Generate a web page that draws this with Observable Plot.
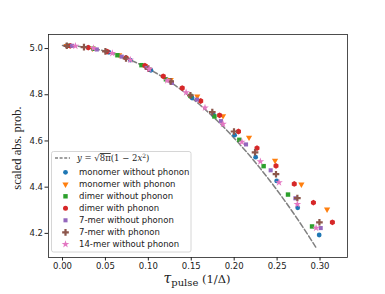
<!DOCTYPE html>
<html><head><meta charset="utf-8">
<script src="https://cdn.jsdelivr.net/npm/d3@7"></script>
<script src="https://cdn.jsdelivr.net/npm/@observablehq/plot@0.6"></script>
<style>body{margin:0;background:#fff;}</style>
</head><body><div id="chart"></div>
<script>
// ---- data ----
const seriesNames = ["monomer without phonon","monomer with phonon","dimer without phonon","dimer with phonon","7-mer without phonon","7-mer with phonon","14-mer without phonon"];
const seriesColors = ["#1f77b4","#ff7f0e","#2ca02c","#d62728","#9467bd","#8c564b","#e377c2"];
const seriesSymbols = ["circle","triangle","square","hexagon","square","cross","star"];
const seriesRotate = [0,180,0,0,0,0,0];
const seriesR = [2.4,2.3,2.5,2.5,2.3,2.8,2.4];

const tauMonoNo = [0.005,0.030,0.054,0.079,0.103,0.127,0.151,0.176,0.2005,0.225,0.2495,0.274,0.299];
const probMonoNo = [5.012,5.004,4.984,4.950,4.906,4.853,4.786,4.712,4.625,4.530,4.427,4.311,4.193];
const tauMonoPh = [0.005,0.035,0.066,0.096,0.126,0.157,0.187,0.2173,0.2476,0.2783,0.3082];
const probMonoPh = [5.012,5.000,4.972,4.925,4.865,4.793,4.708,4.615,4.515,4.412,4.304];
const tauDimNo = [0.007,0.036,0.064,0.092,0.1205,0.149,0.177,0.206,0.2343,0.2627,0.2907];
const probDimNo = [5.012,4.999,4.971,4.928,4.867,4.795,4.706,4.605,4.491,4.368,4.230];
const tauDimPh = [0.009,0.030,0.052,0.074,0.096,0.1174,0.1395,0.161,0.183,0.205,0.2266,0.2487,0.270,0.2923,0.3144];
const probDimPh = [5.012,5.004,4.987,4.960,4.926,4.880,4.829,4.773,4.711,4.641,4.569,4.492,4.414,4.333,4.248];
const tau7No = [0.011,0.040,0.069,0.098,0.1275,0.1566,0.1846,0.2138,0.2425,0.2713,0.3008];
const prob7No = [5.012,4.996,4.965,4.916,4.851,4.779,4.686,4.585,4.473,4.352,4.223];
const tau7Ph = [0.005,0.025,0.050,0.074,0.100,0.126,0.149,0.1745,0.1998,0.2243,0.2487,0.2736,0.2993];
const prob7Ph = [5.012,5.006,4.988,4.957,4.913,4.858,4.797,4.725,4.641,4.551,4.456,4.353,4.248];
const tau14No = [0.015,0.036,0.058,0.079,0.101,0.122,0.144,0.166,0.187,0.209,0.2305,0.2522,0.2736,0.2954];
const prob14No = [5.011,5.001,4.980,4.951,4.911,4.862,4.810,4.744,4.673,4.596,4.511,4.420,4.326,4.223];

const xTicks = [0.00,0.05,0.10,0.15,0.20,0.25,0.30];
const yTicks = [4.2,4.4,4.6,4.8,5.0];
// analytic reference curve y = sqrt(8π)(1 − 2x²), drawn over τ ∈ [0, 0.295]
const curveX = d3.range(0, 0.2951, 0.005);

// ---- build ----
const tauLists = [tauMonoNo,tauMonoPh,tauDimNo,tauDimPh,tau7No,tau7Ph,tau14No];
const probLists = [probMonoNo,probMonoPh,probDimNo,probDimPh,prob7No,prob7Ph,prob14No];
const curve = curveX.map(x => ({x, y: Math.sqrt(8*Math.PI)*(1-2*x*x)}));

const dotMarks = tauLists.map((taus, i) => Plot.dot(
  taus.map((t, j) => ({tau: t, p: probLists[i][j]})),
  {x: "tau", y: "p", fill: seriesColors[i], stroke: "none",
   symbol: () => seriesSymbols[i], r: seriesR[i], rotate: seriesRotate[i]}
));

const chart = Plot.plot({
  width: 385, height: 294,
  marginLeft: 48, marginRight: 38, marginTop: 34, marginBottom: 37,
  style: {fontFamily: "DejaVu Sans", fontSize: "8.5px", color: "#222", background: "#fff"},
  x: {domain: [-0.0163, 0.332]},
  y: {domain: [4.0956, 5.0608]},
  marks: [
    Plot.axisX({ticks: xTicks, tickFormat: d3.format(".2f"), tickSize: 3.5, tickPadding: 2, label: null}),
    Plot.axisY({ticks: yTicks, tickFormat: d3.format(".1f"), tickSize: 3.5, tickPadding: 2, label: null}),
    Plot.line(curve, {x: "x", y: "y", stroke: "#808080", strokeWidth: 1.5, strokeDasharray: "5.5,2.4"}),
    ...dotMarks,
    Plot.frame({stroke: "#222", strokeWidth: 0.8})
  ]
});
document.getElementById("chart").appendChild(chart);

// ---- labels & legend ----
const svg = d3.select(chart);
// y label
svg.append("text").attr("transform", "translate(21,148) rotate(-90)")
  .attr("text-anchor", "middle").attr("font-family", "Liberation Serif").attr("font-size", 12.5)
  .attr("fill", "#222").text("scaled abs. prob.");
// x label
const xl = svg.append("text").attr("x", 197).attr("y", 283).attr("text-anchor", "middle")
  .attr("font-family", "DejaVu Serif").attr("fill", "#222");
xl.append("tspan").attr("font-style", "italic").attr("font-size", 14).text("τ");
xl.append("tspan").attr("font-size", 10).attr("dy", 3).text("pulse");
xl.append("tspan").attr("font-size", 11.5).attr("dy", -3).text(" (1/Δ)");

// legend
const lg = svg.append("g").attr("text-anchor", "start");
lg.append("rect").attr("x", 51.5).attr("y", 151.5).attr("width", 139.5).attr("height", 100.5)
  .attr("rx", 2).attr("fill", "#fff").attr("fill-opacity", 0.8).attr("stroke", "#ccc").attr("stroke-width", 0.8);
lg.append("line").attr("x1", 55).attr("x2", 70).attr("y1", 158).attr("y2", 158)
  .attr("stroke", "#808080").attr("stroke-width", 1.5).attr("stroke-dasharray", "3,1.6");
const eq = lg.append("text").attr("x", 77).attr("y", 161).attr("font-family", "DejaVu Serif")
  .attr("font-size", 8.5).attr("fill", "#222").attr("text-anchor", "start");
eq.append("tspan").attr("font-style", "italic").text("y");
eq.append("tspan").text(" = √");
eq.append("tspan").attr("text-decoration", "overline").text("8π");
eq.append("tspan").text("(1 − 2");
eq.append("tspan").attr("font-style", "italic").text("x");
eq.append("tspan").attr("font-size", 6).attr("dy", -3.5).text("2");
eq.append("tspan").attr("dy", 3.5).text(")");
const symMap = {circle: d3.symbolCircle, triangle: d3.symbolTriangle, square: d3.symbolSquare,
  hexagon: d3.symbolHexagon || d3.symbolCircle, cross: d3.symbolCross, star: d3.symbolStar};
seriesNames.forEach((name, i) => {
  const cy = 172.3 + i * 12;
  const r = seriesR[i];
  lg.append("path").attr("d", d3.symbol(symMap[seriesSymbols[i]], Math.PI * r * r)())
    .attr("transform", `translate(65.5,${cy}) rotate(${seriesRotate[i]})`).attr("fill", seriesColors[i]);
  lg.append("text").attr("x", 79).attr("y", cy + 3).attr("font-family", "DejaVu Sans")
    .attr("font-size", 8.5).attr("fill", "#222").attr("text-anchor", "start").text(name);
});
</script>
</body></html>
